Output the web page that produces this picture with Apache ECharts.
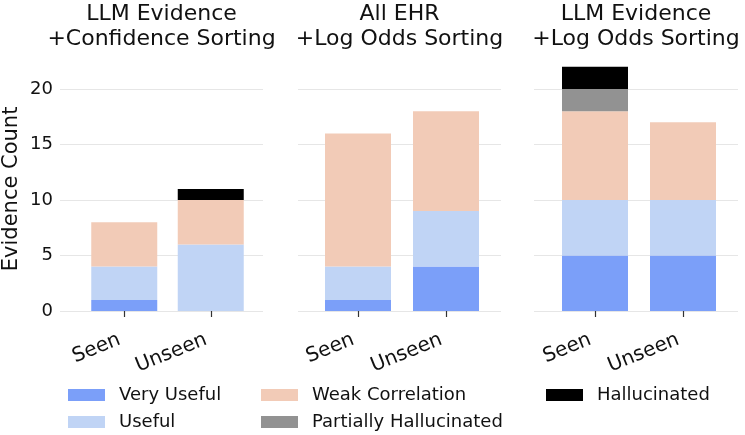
<!DOCTYPE html>
<html>
<head>
<meta charset="utf-8">
<script src="https://cdn.jsdelivr.net/npm/echarts@6/dist/echarts.min.js"></script>
<style>html,body{margin:0;padding:0;background:#fff}#c{width:745px;height:435px}</style>
</head>
<body>
<div id="c"></div>
<script>
// ---- data ----
var categories = ['Seen', 'Unseen'];
var panelTitles = ['LLM Evidence\n+Confidence Sorting', 'All EHR\n+Log Odds Sorting', 'LLM Evidence\n+Log Odds Sorting'];
var seriesNames = ['Very Useful', 'Useful', 'Weak Correlation', 'Partially Hallucinated', 'Hallucinated'];
// per panel: [Seen, Unseen]
var veryUseful = [[1, 0], [1, 4], [5, 5]];
var useful = [[3, 6], [3, 5], [5, 5]];
var weakCorrelation = [[4, 4], [12, 9], [8, 7]];
var partiallyHallucinated = [[0, 0], [0, 0], [2, 0]];
var hallucinated = [[0, 1], [0, 0], [2, 0]];
var yTicks = [0, 5, 10, 15, 20];

// ---- styling / layout ----
var colors = ['#7b9ff9', '#c0d4f5', '#f2cbb7', '#929292', '#000000'];
var FONT = 'DejaVu Sans';
var gridLeft = [60, 298, 534], gridWidth = [203, 203, 204];
var barCenter0 = [122, 358, 595];
var catStep = 88;
var y0 = 311, pxPerUnit = 11.1;
var barMax = 22;
// legend slots: [left, top] per series
var legendPos = [[68, 386], [68, 413], [261, 386], [261, 413], [546, 386]];

var allData = [veryUseful, useful, weakCorrelation, partiallyHallucinated, hallucinated];

var option = {
  animation: false,
  backgroundColor: '#fff',
  textStyle: { fontFamily: FONT },
  title: panelTitles.map(function (t, i) {
    return {
      text: t, left: gridLeft[i] + gridWidth[i] / 2, top: 2, textAlign: 'center', padding: 0,
      textStyle: { fontFamily: FONT, fontSize: 22, fontWeight: 'normal', color: '#111', lineHeight: 25 }
    };
  }),
  grid: [],
  xAxis: [],
  yAxis: [],
  legend: seriesNames.map(function (n, i) {
    return {
      data: [n], left: legendPos[i][0], top: legendPos[i][1], padding: 0,
      itemWidth: 37, itemHeight: 12, icon: 'rect', selectedMode: false,
      textStyle: { fontFamily: FONT, fontSize: 18, color: '#111', padding: [0, 0, 0, 9] }
    };
  }),
  series: []
};

for (var p = 0; p < 3; p++) {
  // grid for gridlines & tick labels
  option.grid.push({ left: gridLeft[p], width: gridWidth[p], top: y0 - yTicks[yTicks.length - 1] * pxPerUnit, height: yTicks[yTicks.length - 1] * pxPerUnit });
  option.xAxis.push({ gridIndex: p, type: 'value', min: 0, max: 1, show: false });
  option.yAxis.push({
    gridIndex: p, type: 'value', min: yTicks[0], max: yTicks[yTicks.length - 1], interval: 5,
    axisLine: { show: false }, axisTick: { show: false },
    axisLabel: { show: p === 0, fontFamily: FONT, fontSize: 18, color: '#111', margin: 7 },
    splitLine: { show: true, lineStyle: { color: '#e6e6e6', width: 1 } }
  });
}
for (var p = 0; p < 3; p++) {
  // grid for bars
  option.grid.push({ left: barCenter0[p] - catStep / 2, width: catStep * 2, top: y0 - barMax * pxPerUnit, height: barMax * pxPerUnit });
  option.xAxis.push({
    gridIndex: 3 + p, type: 'category', data: categories,
    axisLine: { show: false },
    axisTick: { show: true, alignWithLabel: true, length: 6, lineStyle: { color: '#333', width: 1.2 } },
    axisLabel: { rotate: 22, fontFamily: FONT, fontSize: 20, color: '#111', margin: 26, padding: [0, 5, 0, 0] }
  });
  option.yAxis.push({
    gridIndex: 3 + p, type: 'value', min: 0, max: barMax,
    axisLine: { show: false }, axisTick: { show: false }, axisLabel: { show: false }, splitLine: { show: false },
    name: p === 0 ? 'Evidence Count' : '', nameLocation: 'middle', nameGap: 59,
    nameTextStyle: { fontFamily: FONT, fontSize: 21, color: '#111' }
  });
  for (var k = 0; k < seriesNames.length; k++) {
    option.series.push({
      type: 'bar', name: seriesNames[k], xAxisIndex: 3 + p, yAxisIndex: 3 + p,
      stack: 'panel' + p, barWidth: 66, data: allData[k][p],
      itemStyle: { color: colors[k] }
    });
  }
}

var chart = echarts.init(document.getElementById('c'), null, { renderer: 'canvas' });
chart.setOption(option);
</script>
</body>
</html>
